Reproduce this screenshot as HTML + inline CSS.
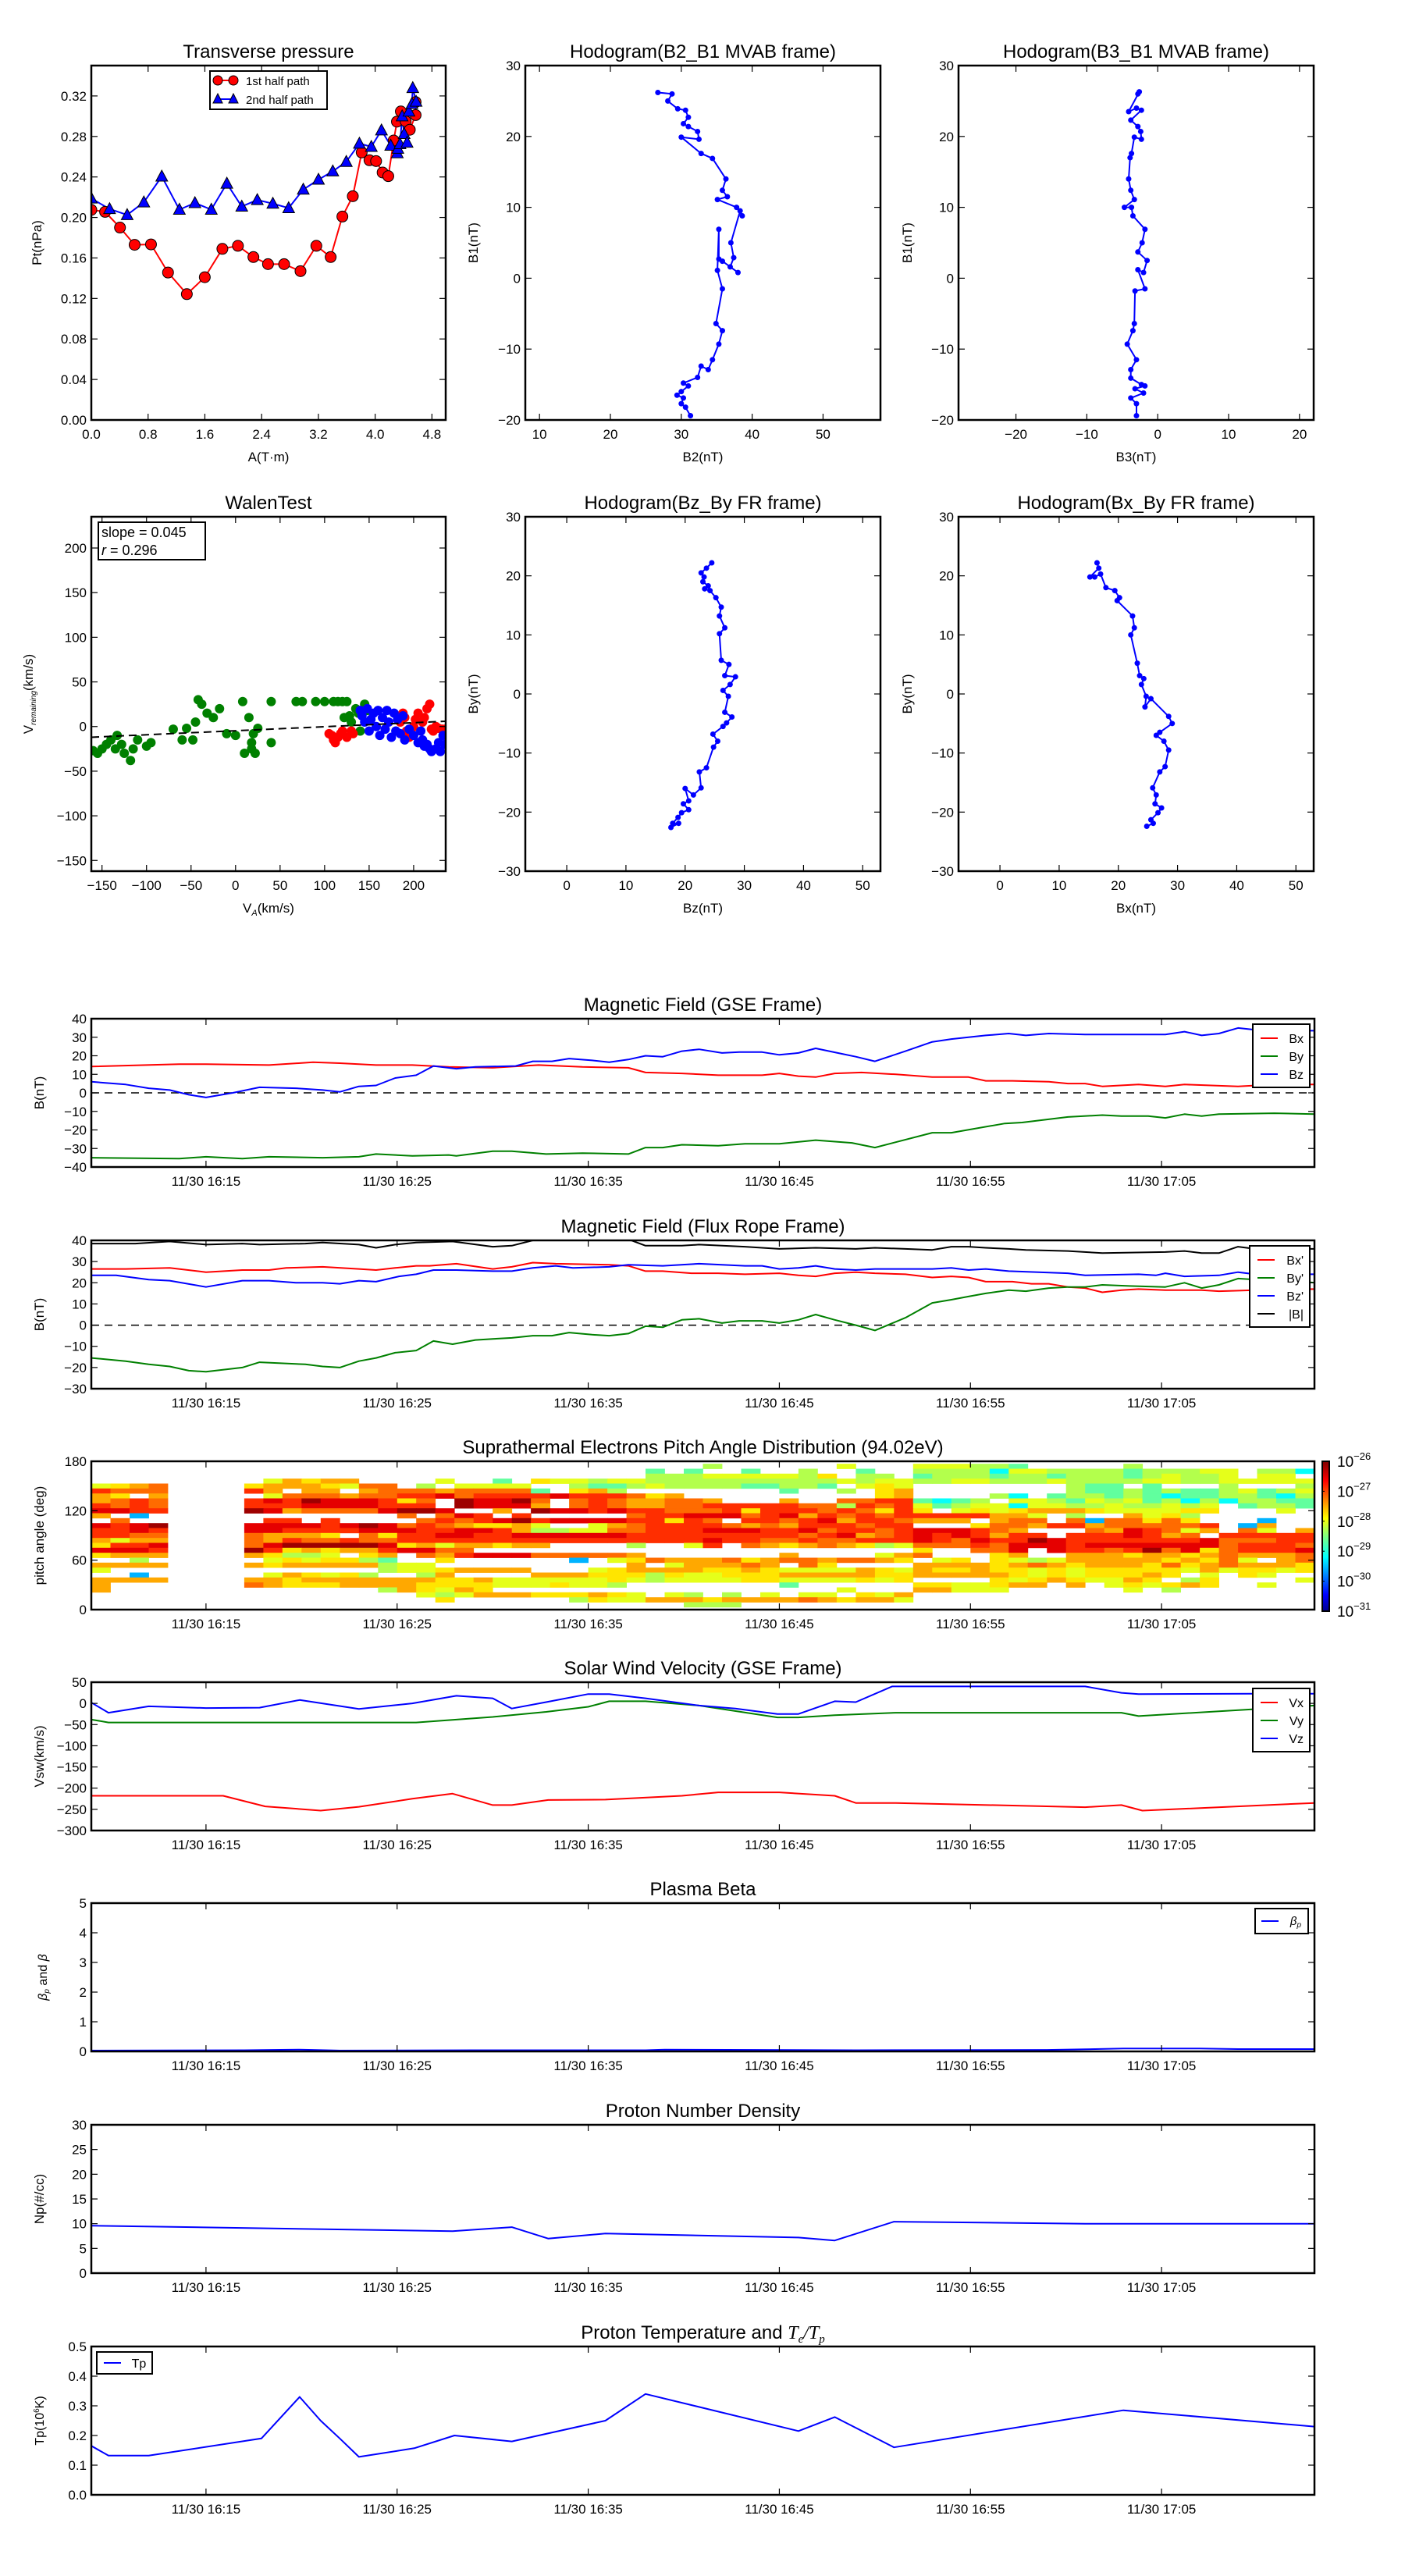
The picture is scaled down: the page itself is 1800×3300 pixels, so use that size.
<!DOCTYPE html>
<html><head><meta charset="utf-8">
<style>
html,body{margin:0;padding:0;background:#fff;}
svg{display:block;font-family:"Liberation Sans","DejaVu Sans",sans-serif;}
</style></head>
<body>
<svg id="chart" xmlns="http://www.w3.org/2000/svg" width="1800" height="3300" viewBox="0 0 1800 3300">
<rect x="0" y="0" width="1800" height="3300" fill="#fff"/>
<defs>
<linearGradient id="jetgrad" x1="0" y1="1" x2="0" y2="0">
<stop offset="0" stop-color="#00008f"/><stop offset="0.11" stop-color="#0000ff"/><stop offset="0.36" stop-color="#00ffff"/><stop offset="0.5" stop-color="#80ff80"/><stop offset="0.62" stop-color="#ffff00"/><stop offset="0.87" stop-color="#ff0000"/><stop offset="1" stop-color="#800000"/>
</linearGradient>
</defs>
</svg>
<script>
// ---------- DATA ----------
const presRedA=[0,0.194,0.404,0.61,0.841,1.081,1.346,1.599,1.847,2.066,2.284,2.49,2.717,2.948,3.171,3.373,3.538,3.685,3.81,3.92,4.013,4.105,4.185,4.261,4.307,4.362,4.43,4.488,4.57,4.57];
const presRedPt=[0.2075,0.2055,0.19,0.173,0.1734,0.1456,0.1243,0.141,0.169,0.172,0.1609,0.1539,0.1539,0.147,0.172,0.1609,0.2009,0.221,0.2642,0.2565,0.2557,0.2444,0.2408,0.276,0.2946,0.3047,0.295,0.2866,0.3011,0.314];
const presBlueA=[0,0.257,0.505,0.74,0.993,1.241,1.46,1.691,1.91,2.12,2.339,2.558,2.781,2.987,3.201,3.403,3.593,3.778,3.946,4.089,4.219,4.312,4.32,4.35,4.38,4.408,4.45,4.476,4.518,4.53,4.577];
const presBluePt=[0.2188,0.2084,0.2025,0.215,0.2405,0.2078,0.2143,0.2078,0.2335,0.2108,0.2173,0.2137,0.2093,0.2276,0.2374,0.2456,0.255,0.273,0.2698,0.2861,0.271,0.2636,0.268,0.2725,0.3,0.2825,0.274,0.3047,0.3122,0.3279,0.3144];
const presXTicks=[0,0.8,1.6,2.4,3.2,4.0,4.8];
const presYTicks=[0,0.04,0.08,0.12,0.16,0.20,0.24,0.28,0.32];

const h1B2=[26.7,28.7,28.1,29.5,30.6,31,30.3,31,32.3,32.5,30,32.8,34.4,36.3,35.8,36.5,35.1,37.8,38.6,38.3,37,37.4,36.9,38,35.8,35.3,35.3,35.1,35.8,34.9,35.8,35.3,34.4,33.8,32.8,32.3,30.3,31,30,29.4,30.3,30,30.6,31.3];
const h1B1=[26.2,26,25,23.9,23.7,22.7,21.8,21.4,20.7,19.6,19.9,17.6,16.9,14,12.4,11.5,11.1,10,8.8,9.5,5,2.9,1.6,0.8,2.4,2.7,6.9,1.1,-1.5,-6.4,-7.4,-9.3,-11.5,-12.9,-12.4,-14,-14.8,-15.2,-16,-16.5,-16.9,-17.7,-18.2,-19.4];
const h2B3=[-2.8,-2.6,-4.1,-3.0,-2.3,-3.8,-2.8,-2.4,-2.3,-3.3,-3.7,-3.9,-4.1,-3.8,-3.3,-4.7,-3.7,-3.5,-1.8,-2.2,-2.8,-1.5,-2,-2.8,-1.8,-3.2,-3.3,-3.5,-4.3,-3,-3.8,-3.8,-2.3,-1.8,-3.2,-2,-3.8,-3,-3];
const h2B1=[26,26.3,23.5,24,23.7,22.3,21.4,20.7,19.6,19.9,17.6,17,14,12.4,11.1,10,10,8.8,6.9,5,3.7,2.5,0.8,1.2,-1.5,-1.8,-6.4,-7.4,-9.3,-11.5,-12.9,-14.1,-15,-15.2,-15.6,-16.2,-16.9,-17.7,-19.4];
const h3Bz=[24.5,23.6,22.7,23.2,23,23.9,23.3,24.2,25.2,26.1,25.8,26.7,25.8,26.1,27.4,26.7,28.5,27.6,26.4,27.3,26.7,27.9,27,26.4,24.7,25.5,24.8,23.6,22.4,22.7,21.4,20,20.6,19.7,20.6,19.4,18.8,17.9,18.9,17.6];
const h3By=[22.2,21.3,20.5,19.8,19,18.3,17.8,17.5,16.3,14.7,13.2,11.2,10.2,5.7,5,3.1,2.9,1.6,0.6,-0.4,-3.1,-3.9,-4.9,-5.5,-6.8,-8,-9,-12.5,-13.2,-15.9,-17.1,-16,-18.1,-18.6,-19.6,-20.1,-20.9,-21.9,-21.9,-22.6];
const h4Bx=[16.4,16.7,15.2,16,17,17.9,19.4,20.2,19.8,22.4,22.7,22.1,23.2,23.6,24.3,23.9,24.7,24.5,25.5,28.5,29.1,27,26.4,27.7,28.5,27.9,27,25.8,26.4,26.2,27.3,26.7,25.5,25.9,24.8];
const h4By=[22.2,21.3,19.8,19.8,20.3,18,17.5,16.3,15.8,13.2,11.2,10,5.2,3.1,2.6,1.6,-0.4,-2.2,-0.8,-3.8,-5,-6.5,-7,-8,-9.5,-12.3,-13.2,-15.9,-17.1,-18.6,-19.3,-20.1,-21.3,-21.9,-22.4];

const walenGreenVA=[-160,-155,-150,-145,-140,-135,-133,-128,-125,-118,-115,-110,-100,-95,-70,-60,-55,-48,-45,-42,-38,-32,-25,-18,-10,0,8,10,15,18,18,20,22,25,40,40,68,75,90,100,110,115,120,125,122,128,130,135,138,140,145,148];
const walenGreenVR=[-27,-30,-25,-20,-15,-25,-10,-20,-30,-38,-25,-15,-22,-18,-3,-15,-2,-15,5,30,25,15,10,20,-8,-10,28,-30,10,-18,-25,-8,-30,-2,-18,28,28,28,28,28,28,28,28,28,10,12,5,20,15,-5,25,18];
const walenRedVA=[105,108,110,112,115,118,120,125,130,132,185,188,190,192,195,198,200,202,205,208,210,212,215,218,220,222,225,228,232,235];
const walenRedVR=[-8,-10,-15,-18,-12,-8,-5,-12,-5,-8,5,15,10,-5,-12,-8,0,8,15,-18,5,10,20,25,-3,-5,0,-2,-3,-3];
const walenBlueVA=[140,142,145,148,150,152,155,158,160,162,165,168,170,172,175,178,180,182,185,188,190,195,200,205,208,210,212,215,218,220,225,228,230,233,235];
const walenBlueVR=[18,12,5,20,-5,8,15,0,18,-10,10,-3,18,5,-12,15,-5,8,-8,12,-15,-3,-10,-18,-5,-15,-22,-20,-25,-28,-25,-18,-28,-10,-20];
const walenSlope=0.045, walenIntercept=-4.7;

const timeTicks=[6,16,26,36,46,56];
const timeLabels=['11/30 16:15','11/30 16:25','11/30 16:35','11/30 16:45','11/30 16:55','11/30 17:05'];

const gseBxT=[0,4.6,6,9.3,11.6,13,14.9,16.8,18.7,21,23.4,25.7,28.1,29,30.9,32.8,35.1,36,37,37.9,38.9,40.3,42.1,44,45.9,46.8,48.2,50.1,51.1,52,52.9,54.8,56.2,57.2,58.6,60,61.9,64];
const gseBx=[14.2,15.5,15.5,15,16.5,16,15,15,14,13.5,15,14,13.5,11,10.5,9.5,9.5,10.5,9,8.5,10.5,11,10,8.5,8.5,6.5,6.5,6,5,5,3.5,4.5,3.5,4.5,4,3.5,4.5,4.5];
const gseByT=[0,4.6,6,7.9,9.3,12.1,14,14.9,16.8,18.7,19.1,21,22,23.8,25.7,28.1,29,29.9,30.9,32.8,34.2,36,37.9,39.8,41,44,45,47.8,48.7,51.1,52.9,53.9,55.3,56.2,57.2,58.1,59,61.9,64];
const gseBy=[-35,-35.5,-34.5,-35.5,-34.5,-35,-34.5,-33,-34,-33.5,-34,-31.5,-31.5,-33,-32.5,-33,-29.5,-29.5,-28,-28.5,-27.5,-27.5,-25.5,-27,-29.5,-21.5,-21.5,-16.5,-16,-13,-12,-12.5,-12.5,-13.5,-11.5,-12.5,-11.5,-11,-11.5];
const gseBzT=[0,1.8,3,4.1,5.1,6,7.4,8.8,10.7,12.1,13,14,14.9,15.9,17,17.9,19.1,20.1,22.2,23.1,24.1,25,26.2,27.1,28.1,29,29.9,30.9,31.8,33,33.9,35.1,36,37,37.9,39.3,40,41,42.6,44,45,45.9,46.8,48,48.9,50.1,52,54.3,56.2,57.2,58.1,59,60,60.9,62.8,64];
const gseBz=[6,4.5,2.5,1.5,-1,-2.5,0,3,2.5,1.5,0.5,3.5,4,8,9.5,14.5,13,14,14.5,17,17,18.5,17.5,16.5,18,20,19.5,22.5,23.5,21.5,22,22,20.5,21.5,24,21,19.5,17,22.5,27.5,29,30,31,32,31,32,31.5,31.5,31.5,33,31,32,35,34,33.5,33.5];

const frBxT=[0,1.8,4.1,6,7.9,9.3,10.2,12.1,14,14.9,15.9,17,17.7,19.1,21,22,23.1,24.3,27.1,28.1,29,29.9,31.4,32.8,34.2,36,37,37.9,38.9,40,41,42.6,44,45,45.9,46.8,48.2,49.2,50.1,51.1,52,52.9,53.9,54.8,56.2,58.1,59,60.9,64];
const frBx=[26.5,26.5,27,25,26,26,27,27.5,26.5,26,27,28,28,29,26.5,27.5,29.5,29,28.5,28,25.5,25.5,24.5,24.5,24,24.5,23.5,23,24.5,25,24.5,24,22.5,23,22.5,20.5,20.5,19.5,19.5,18,17.5,15.5,16.5,17,16.5,16.5,16,16.5,17];
const frByT=[0,1.8,3,4.1,5.1,6,7.9,8.8,11.2,12.1,13,14,14.9,15.9,17,17.9,18.9,20.1,21,22,23.1,24.1,25,26.2,27.1,28.1,29,29.9,30.9,31.8,33,33.9,35.1,36,37,37.9,38.9,40,41,42.6,44,45,45.9,46.8,48,48.9,50.1,51.1,52,52.9,54.3,56.2,57.2,58.1,59,60,60.9,61.9,62.8,64];
const frBy=[-15.5,-17,-18.5,-19.5,-21.5,-22,-20,-17.5,-18.5,-19.5,-20,-17,-15.5,-13,-12,-7.5,-9,-7,-6.5,-6,-5,-5,-3.5,-4.5,-5,-4,-0.5,-1,2.5,3,1,2,2,1,2.5,5,2.5,0,-2.5,3.5,10.5,12,13.5,15,16.5,16,17.5,18,18,19,18.5,18,20,17.5,19,22,21.5,20,21,20];
const frBzT=[0,1.3,3,4.1,6,7.9,9.3,10.7,12.1,13,14,14.9,16.1,17,17.9,19.1,21,22,23.1,24.3,25.2,27.1,28.1,29.9,31.8,33,34.2,35.1,36,37,37.9,38.9,40,41,42.6,44,45,45.9,46.8,48,51.1,52,54.8,55.7,56.2,57.2,59,60,60.9,64];
const frBz=[23.5,23.5,21.5,21,18,21,21,20,20,19.5,21,20.5,23,24,26,26,25.5,25.5,27,28,27,27.5,28.5,28,29,28.5,28,28,26.5,27,28,26.5,26,26.5,26.5,26.5,27,26,26.5,25.5,24.5,23.5,24,23.5,24.5,23,23.5,25,24,24];
const frBtT=[0,2.3,4.1,6,7.9,8.8,11.2,12.1,14,14.9,15.9,17,18.9,21,22,23.1,24.3,27.1,28.1,29,30.9,31.8,33,34.2,36,37.9,40,41,42.6,44,45,45.9,46.8,48,48.9,51.1,52.9,56.2,57.2,58.1,59,60,60.9,64];
const frBt=[38.5,38.5,39.5,38,38.5,38,38.5,39,38,36.5,38,39,39.5,37,37.5,40,40.5,40,40.5,37.5,37.5,38,37.5,37,36,36.5,36,36.5,36,35.5,37,37,36.5,36,35.5,35,34,34.5,35,34,34,37,36,36];

// pitch-angle rows: 31 bins centred at 180,174,...,0 ; 64 one-minute columns ; '.' = no data, b,0-9 = level
const padRows=[
 '.'.repeat(64),
 '.'.repeat(32)+'2......3...333221.....2.........',
 '.'.repeat(29)+'1.1'+'..1..2..1..22220332222122233.220',
 '.'.repeat(29)+'222'+'3333324.22.12221221222123223.33.',
 '.........35455....3..1.433233222'+'22222223233223322232222332233333',
 '3456....45554366.2.3333..2112322'+'2211221.343........211.1...2...2',
 '7666....75.55.5666566661.452....'+'....1..2.45........2112121123123',
 '54.5.....3666566778677778777645.'+'.........45....20.12212101122102',
 '5676....7879888746.98896.6765566'+'5...5..66771012.3321323120202211',
 '7676....7778888777.98885.6765566'+'777776627673123303322322323.1221',
 '8877....98566668998..5.988787766'+'674777676474.34345554333344...3.',
 '5.b.............6.687.7.....6778'+'886785767677777553.2..5342......',
 '.6.......77.7....676789788887747'+'6.776785776555.566.6b66464...b..',
 '8789....8888789867654453..356777'+'76565777677...4665775666667.b5..',
 '7787....887777888778875223366777'+'88877867767888765...6587635.63.5',
 '7766....65554.647788778888887777'+'777776785678787577.7778756.77777',
 '5355....657667667777777777777777'+'87766766777876877987777777866677',
 '4778....6899999845355455....2..3'+'7.654565423666768887888888867776',
 '8887....974545578866............'+'...........4..668.87767968467778',
 '4555....54223.45.657888666665...'+'....5....356...45..5554554565556',
 '..2......3434421..4......b.34655'+'56456656654.34.43235555545463.56',
 '5555....5455555233..........5.35'+'5565.64....555545654555464565554',
 '3'+'.'.repeat(14)+'23345555...345555'+'44543333543544544343444443534434',
 '..b......354342..25....555444243'+'3444555554455555434344454.3.43..',
 '5555....554555555544533333343233'+'33443333434....434543354.24....3',
 '5.......65444555544443334332....'+'....1......4433455.5.343454..3..',
 '5'+'.'.repeat(14)+'254354'+'.'.repeat(11)+'.......3...55333......3.2.......',
 '.'.repeat(17)+'323555444543.32'+'.2.3.33.435'+'.'.repeat(21),
 '.'.repeat(18)+'4......2433555'+'45555654553'+'.'.repeat(21),
 '.'.repeat(31)+'2'+'22'+'.'.repeat(30),
 '.'.repeat(64)
];
const padLevels={'b':0.3,'0':0.38,'1':0.47,'2':0.55,'3':0.6,'4':0.65,'5':0.71,'6':0.77,'7':0.83,'8':0.9,'9':0.97};
const padYTicks=[0,60,120,180];
const cbarLabels=['-26','-27','-28','-29','-30','-31'];

const swVxT=[0,6.9,9.1,12,14,16.8,18.9,21,22,23.9,26.9,30.9,32.8,36,38.9,40,42.1,52,53.9,55,64];
const swVx=[-218,-218,-243,-253,-244,-225,-213,-240,-240,-228,-227,-218,-210,-210,-218,-235,-235,-245,-240,-253,-235];
const swVyT=[0,0.9,17,21,23.8,26,27.1,29,31.8,35.9,37,38.9,42.1,53.9,54.8,64];
const swVy=[-38,-45,-45,-32,-20,-8,5,5,-5,-33,-33,-28,-22,-22,-30,-5];
const swVzT=[0,0.9,3,6,8.8,10.9,14,16.8,19.1,21,22,23.8,26,27.1,29,31.8,33.7,35.9,37,38.9,40,41.9,52,53.9,54.8,60.9,64];
const swVz=[2,-22,-7,-11,-10,8,-13,0,18,12,-12,3,22,22,12,-5,-12,-25,-25,5,3,40,40,25,22,23,23];

const betaT=[0,8,10.9,13,20,29,30,40,50,52,54,58,60,64];
const betaP=[0.03,0.04,0.06,0.03,0.04,0.04,0.06,0.04,0.05,0.07,0.1,0.1,0.08,0.08];
const npT=[0,18.9,22,23.9,26.9,37,38.9,42,52,64];
const npV=[9.6,8.5,9.3,7,8,7.2,6.6,10.4,10,10];
const tpT=[0,0.9,3,8.9,10.9,12,13,14,16.9,19,22,26.9,29,37,38.9,42,54,64];
const tpV=[0.165,0.132,0.132,0.19,0.33,0.25,0.19,0.128,0.157,0.2,0.18,0.25,0.34,0.215,0.262,0.16,0.285,0.23];

// ---------- HELPERS ----------
const NS='http://www.w3.org/2000/svg';
const svg=document.getElementById('chart');
const defs=svg.querySelector('defs');
function mk(tag,attrs,parent){const e=document.createElementNS(NS,tag);for(const k in attrs)e.setAttribute(k,attrs[k]);(parent||svg).appendChild(e);return e;}
function nm(e,name,inter){
  
  
  return e;}
function txt(str,x,y,opts,parent){const o=Object.assign({'font-size':17,'text-anchor':'middle',fill:'#000'},opts||{});o.x=x;o.y=y;const t=mk('text',o,parent);t.textContent=str;return t;}
let clipId=0;
function axes(name,x0,y0,w,h,xmin,xmax,ymin,ymax){
  const g=mk('g',{});
  nm(g,name+'-panel',false);
  const id='clip'+(clipId++);
  const cp=mk('clipPath',{id:id},defs);const r=mk('rect',{x:x0,y:y0,width:w,height:h},cp);
  const dg=mk('g',{'clip-path':'url(#'+id+')'},g);
  nm(dg,name+'-plot-area',false);
  return {name,g,dg,x0,y0,w,h,sx:v=>x0+(v-xmin)/(xmax-xmin)*w,sy:v=>y0+h-(v-ymin)/(ymax-ymin)*h};
}
function frame(ax){const r=mk('rect',{x:ax.x0,y:ax.y0,width:ax.w,height:ax.h,fill:'none',stroke:'#000','stroke-width':2.5},ax.g);nm(r,ax.name+'-frame',false);}
function xticks(ax,vals,labels,fs){
  const g=mk('g',{},ax.g);nm(g,ax.name+'-x-ticks',false);
  vals.forEach((v,i)=>{const x=ax.sx(v);
    mk('line',{x1:x,x2:x,y1:ax.y0+ax.h,y2:ax.y0+ax.h-8,stroke:'#000','stroke-width':1.2},g);
    mk('line',{x1:x,x2:x,y1:ax.y0,y2:ax.y0+8,stroke:'#000','stroke-width':1.2},g);
    const t=txt(labels[i],x,ax.y0+ax.h+24,{'font-size':fs||17},g);nm(t,ax.name+'-x-tick-label',false);});
}
function yticks(ax,vals,labels,fs){
  const g=mk('g',{},ax.g);nm(g,ax.name+'-y-ticks',false);
  vals.forEach((v,i)=>{const y=ax.sy(v);
    mk('line',{x1:ax.x0,x2:ax.x0+8,y1:y,y2:y,stroke:'#000','stroke-width':1.2},g);
    mk('line',{x1:ax.x0+ax.w,x2:ax.x0+ax.w-8,y1:y,y2:y,stroke:'#000','stroke-width':1.2},g);
    const t=txt(labels[i],ax.x0-6,y+6,{'font-size':fs||17,'text-anchor':'end'},g);nm(t,ax.name+'-y-tick-label',false);});
}
function title(ax,str){const t=txt(str,ax.x0+ax.w/2,ax.y0-10,{'font-size':24},ax.g);nm(t,ax.name+'-title',false);return t;}
function ylabel(ax,str,x){const t=txt(str,0,0,{'font-size':17,transform:'translate('+x+','+(ax.y0+ax.h/2)+') rotate(-90)'},ax.g);nm(t,ax.name+'-y-axis-title',false);return t;}
function xlabel(ax,str,y){const t=txt(str,ax.x0+ax.w/2,y,{'font-size':17},ax.g);nm(t,ax.name+'-x-axis-title',false);return t;}
function line(ax,xs,ys,color,name,w){const n=Math.min(xs.length,ys.length);let p=[];for(let i=0;i<n;i++)p.push(ax.sx(xs[i]).toFixed(1)+','+ax.sy(ys[i]).toFixed(1));
  const l=mk('polyline',{points:p.join(' '),fill:'none',stroke:color,'stroke-width':w||2,'stroke-linejoin':'round'},ax.dg);nm(l,name,false);return l;}
function dots(ax,xs,ys,color,name,r){const g=mk('g',{},ax.dg);nm(g,name,false);const n=Math.min(xs.length,ys.length);
  for(let i=0;i<n;i++){const c=mk('circle',{cx:ax.sx(xs[i]),cy:ax.sy(ys[i]),r:r,fill:color},g);nm(c,name+'-point',false);}return g;}
function zeroDash(ax){const l=mk('line',{x1:ax.x0,x2:ax.x0+ax.w,y1:ax.sy(0),y2:ax.sy(0),stroke:'#000','stroke-width':1.5,'stroke-dasharray':'10,7'},ax.dg);nm(l,ax.name+'-zero-line',false);}
function legend(ax,x,y,w,entries){const g=mk('g',{},ax.g);nm(g,ax.name+'-legend',true);
  const h=entries.length*23+12;const r=mk('rect',{x:x,y:y,width:w,height:h,fill:'#fff',stroke:'#000','stroke-width':2},g);nm(r,ax.name+'-legend-box',false);
  entries.forEach((e,i)=>{const yy=y+18+i*23;const eg=mk('g',{},g);nm(eg,ax.name+'-legend-entry-'+e[1],true);
    mk('line',{x1:x+10,x2:x+32,y1:yy,y2:yy,stroke:e[0],'stroke-width':2},eg);
    const t=txt(e[1],x+w-8,yy+6,{'font-size':16,'text-anchor':'end'},eg);});
  return g;}
function fmt(v,d){return v.toFixed(d).replace('-','\u2212');}

// ---------- TRANSVERSE PRESSURE ----------
(function(){
  const ax=axes('transverse-pressure',117,84,454,454,0,4.994,0,0.35);
  line(ax,presRedA,presRedPt,'#ff0000','pressure-1st-half-line',2);
  line(ax,presBlueA,presBluePt,'#0000ff','pressure-2nd-half-line',2);
  const gr=mk('g',{},ax.dg);nm(gr,'pressure-1st-half-markers',false);
  for(let i=0;i<presRedA.length;i++){const c=mk('circle',{cx:ax.sx(presRedA[i]),cy:ax.sy(presRedPt[i]),r:7,fill:'#ff0000',stroke:'#000','stroke-width':1},gr);nm(c,'pressure-1st-half-point',false);}
  const gb=mk('g',{},ax.dg);nm(gb,'pressure-2nd-half-markers',false);
  for(let i=0;i<presBlueA.length;i++){const x=ax.sx(presBlueA[i]),y=ax.sy(presBluePt[i]);
    const p=mk('polygon',{points:(x)+','+(y-8)+' '+(x-7.5)+','+(y+6)+' '+(x+7.5)+','+(y+6),fill:'#0000ff',stroke:'#000','stroke-width':1},gb);nm(p,'pressure-2nd-half-point',false);}
  frame(ax);
  xticks(ax,presXTicks,presXTicks.map(v=>v.toFixed(1)));
  yticks(ax,presYTicks,presYTicks.map(v=>v.toFixed(2)));
  title(ax,'Transverse pressure');
  xlabel(ax,'A(T\u00b7m)',591);
  ylabel(ax,'Pt(nPa)',53);
  const lg=mk('g',{},ax.g);nm(lg,'pressure-legend',true);
  const lr=mk('rect',{x:269,y:91,width:150,height:49,fill:'#fff',stroke:'#000','stroke-width':2},lg);nm(lr,'pressure-legend-box',false);
  const e1=mk('g',{},lg);nm(e1,'legend-entry-1st-half',true);
  mk('line',{x1:279,x2:299,y1:103,y2:103,stroke:'#ff0000','stroke-width':2},e1);
  mk('circle',{cx:279,cy:103,r:6,fill:'#ff0000',stroke:'#000','stroke-width':1},e1);mk('circle',{cx:299,cy:103,r:6,fill:'#ff0000',stroke:'#000','stroke-width':1},e1);
  txt('1st half path',315,109,{'font-size':15,'text-anchor':'start'},e1);
  const e2=mk('g',{},lg);nm(e2,'legend-entry-2nd-half',true);
  mk('line',{x1:279,x2:299,y1:127,y2:127,stroke:'#0000ff','stroke-width':2},e2);
  mk('polygon',{points:'279,120 273,132 285,132',fill:'#0000ff',stroke:'#000','stroke-width':1},e2);mk('polygon',{points:'299,120 293,132 305,132',fill:'#0000ff',stroke:'#000','stroke-width':1},e2);
  txt('2nd half path',315,133,{'font-size':15,'text-anchor':'start'},e2);
})();

// ---------- HODOGRAMS ----------
function hodo(name,x0,y0,xmin,xmax,ymin,ymax,xs,ys,xt,yt,ttl,xl,yl,ylx,xly){
  const ax=axes(name,x0,y0,455,454,xmin,xmax,ymin,ymax);
  line(ax,xs,ys,'#0000ff',name+'-path',2);
  dots(ax,xs,ys,'#0000ff',name+'-samples',3.5);
  frame(ax);
  xticks(ax,xt,xt.map(v=>fmt(v,0)));
  yticks(ax,yt,yt.map(v=>fmt(v,0)));
  title(ax,ttl);xlabel(ax,xl,xly);ylabel(ax,yl,ylx);
}
hodo('hodogram-b2-b1',673,84,8,58.1,-20,30,h1B2,h1B1,[10,20,30,40,50],[-20,-10,0,10,20,30],'Hodogram(B2_B1 MVAB frame)','B2(nT)','B1(nT)',612,591);
hodo('hodogram-b3-b1',1228,84,-28.1,22,-20,30,h2B3,h2B1,[-20,-10,0,10,20],[-20,-10,0,10,20,30],'Hodogram(B3_B1 MVAB frame)','B3(nT)','B1(nT)',1168,591);
hodo('hodogram-bz-by',673,662,-7,53,-30,30,h3Bz,h3By,[0,10,20,30,40,50],[-30,-20,-10,0,10,20,30],'Hodogram(Bz_By FR frame)','Bz(nT)','By(nT)',612,1169);
hodo('hodogram-bx-by',1228,662,-7,53,-30,30,h4Bx,h4By,[0,10,20,30,40,50],[-30,-20,-10,0,10,20,30],'Hodogram(Bx_By FR frame)','Bx(nT)','By(nT)',1168,1169);

// ---------- WALEN TEST ----------
(function(){
  const ax=axes('walen-test',117,662,454,454,-162,236,-162,235);
  dots(ax,walenGreenVA,walenGreenVR,'#008000','walen-green-points',6);
  dots(ax,walenRedVA,walenRedVR,'#ff0000','walen-red-points',6);
  dots(ax,walenBlueVA,walenBlueVR,'#0000ff','walen-blue-points',6);
  const fl=mk('line',{x1:ax.sx(-162),y1:ax.sy(walenSlope*-162+walenIntercept),x2:ax.sx(236),y2:ax.sy(walenSlope*236+walenIntercept),stroke:'#000','stroke-width':2,'stroke-dasharray':'10,6'},ax.dg);nm(fl,'walen-fit-line',false);
  frame(ax);
  const xt=[-150,-100,-50,0,50,100,150,200],yt=[-150,-100,-50,0,50,100,150,200];
  xticks(ax,xt,xt.map(v=>fmt(v,0)));yticks(ax,yt,yt.map(v=>fmt(v,0)));
  title(ax,'WalenTest');
  const xl=mk('text',{x:ax.x0+ax.w/2,y:1169,'font-size':17,'text-anchor':'middle'},ax.g);nm(xl,'walen-test-x-axis-title',false);
  xl.innerHTML='V<tspan font-size="11" dy="4" font-style="italic">A</tspan><tspan dy="-4">(km/s)</tspan>';
  const yl=mk('text',{'font-size':17,'text-anchor':'middle',transform:'translate(42,'+(ax.y0+ax.h/2)+') rotate(-90)'},ax.g);nm(yl,'walen-test-y-axis-title',false);
  yl.innerHTML='V<tspan font-size="10" dy="4" font-style="italic">remaining</tspan><tspan dy="-4">(km/s)</tspan>';
  const bx=mk('g',{},ax.g);nm(bx,'walen-stats-box',false);
  mk('rect',{x:126,y:669,width:137,height:48,fill:'#fff',stroke:'#000','stroke-width':2},bx);
  txt('slope = 0.045',130,688,{'font-size':18,'text-anchor':'start'},bx);
  const r=txt('',130,711,{'font-size':18,'text-anchor':'start'},bx);r.innerHTML='<tspan font-style="italic">r</tspan> = 0.296';
})();

// ---------- TIME PANELS ----------
function timePanel(name,y0,ymin,ymax,yt,ylbls,ttl,yl){
  const ax=axes(name,117,y0,1567,190,0,64,ymin,ymax);
  ax.finish=function(){frame(ax);xticks(ax,timeTicks,timeLabels);yticks(ax,yt,ylbls);if(ttl)title(ax,ttl);if(yl)ylabel(ax,yl,56);};
  return ax;
}
// GSE
(function(){
  const yt=[-40,-30,-20,-10,0,10,20,30,40];
  const ax=timePanel('magnetic-field-gse',1305,-40,40,yt,yt.map(v=>fmt(v,0)),'Magnetic Field (GSE Frame)','B(nT)');
  zeroDash(ax);
  line(ax,gseBxT,gseBx,'#ff0000','gse-bx-line');line(ax,gseByT,gseBy,'#008000','gse-by-line');line(ax,gseBzT,gseBz,'#0000ff','gse-bz-line');
  ax.finish();
  legend(ax,1605,1312,73,[['#ff0000','Bx'],['#008000','By'],['#0000ff','Bz']]);
})();
// Flux rope
(function(){
  const yt=[-30,-20,-10,0,10,20,30,40];
  const ax=timePanel('magnetic-field-flux-rope',1589,-30,40,yt,yt.map(v=>fmt(v,0)),'Magnetic Field (Flux Rope Frame)','B(nT)');
  zeroDash(ax);
  line(ax,frBxT,frBx,'#ff0000','fr-bx-line');line(ax,frByT,frBy,'#008000','fr-by-line');line(ax,frBzT,frBz,'#0000ff','fr-bz-line');line(ax,frBtT,frBt,'#000000','fr-btotal-line');
  ax.finish();
  legend(ax,1601,1596,77,[['#ff0000',"Bx'"],['#008000',"By'"],['#0000ff',"Bz'"],['#000000','|B|']]);
})();
// PAD
function jet(t){const c=v=>Math.round(255*Math.max(0,Math.min(1,v)));return 'rgb('+c(1.5-Math.abs(4*t-3))+','+c(1.5-Math.abs(4*t-2))+','+c(1.5-Math.abs(4*t-1))+')';}
(function(){
  const ax=timePanel('pitch-angle-distribution',1872,0,180,padYTicks,padYTicks.map(String),'Suprathermal Electrons Pitch Angle Distribution (94.02eV)','pitch angle (deg)');
  const g=mk('g',{},ax.dg);nm(g,'pad-heatmap',false);
  padRows.forEach((row,r)=>{const center=180-6*r;
    for(let c=0;c<64;c++){const ch=row[c];if(!ch||ch==='.')continue;
      const x1=ax.sx(c),x2=ax.sx(c+1),y1=ax.sy(center+3),y2=ax.sy(center-3);
      const cell=mk('rect',{x:x1.toFixed(1),y:y1.toFixed(1),width:(x2-x1+0.4).toFixed(1),height:(y2-y1+0.4).toFixed(1),fill:jet(padLevels[ch])},g);
      nm(cell,'pad-cell',false);}});
  ax.finish();
  const cb=mk('g',{},svg);nm(cb,'pad-colorbar',false);
  const cr=mk('rect',{x:1694,y:1872,width:9,height:192,fill:'url(#jetgrad)',stroke:'#000','stroke-width':2},cb);nm(cr,'colorbar-gradient',false);
  cbarLabels.forEach((s,i)=>{const y=1872+i*38.4;mk('line',{x1:1694,x2:1697,y1:y,y2:y,stroke:'#000'},cb);
    const t=txt('',1713,y+7,{'font-size':19,'text-anchor':'start'},cb);t.innerHTML='10<tspan font-size="13" dy="-9">'+s.replace('-','\u2212')+'</tspan>';nm(t,'colorbar-tick-label',false);});
})();
// Solar wind
(function(){
  const yt=[-300,-250,-200,-150,-100,-50,0,50];
  const ax=timePanel('solar-wind-velocity',2155,-300,50,yt,yt.map(v=>fmt(v,0)),'Solar Wind Velocity (GSE Frame)','Vsw(km/s)');
  line(ax,swVxT,swVx,'#ff0000','sw-vx-line');line(ax,swVyT,swVy,'#008000','sw-vy-line');line(ax,swVzT,swVz,'#0000ff','sw-vz-line');
  ax.finish();
  legend(ax,1605,2163,73,[['#ff0000','Vx'],['#008000','Vy'],['#0000ff','Vz']]);
})();
// Beta
(function(){
  const yt=[0,1,2,3,4,5];
  const ax=timePanel('plasma-beta',2438,0,5,yt,yt.map(String),'Plasma Beta',null);
  line(ax,betaT,betaP,'#0000ff','beta-p-line');
  ax.finish();
  const yl=mk('text',{'font-size':16,'text-anchor':'middle',transform:'translate(60,2533) rotate(-90)'},ax.g);nm(yl,'plasma-beta-y-axis-title',false);
  yl.innerHTML='<tspan font-style="italic">\u03b2</tspan><tspan font-size="10" dy="3" font-style="italic">p</tspan><tspan dy="-3"> and </tspan><tspan font-style="italic">\u03b2</tspan>';
  const lg=mk('g',{},ax.g);nm(lg,'plasma-beta-legend',true);
  mk('rect',{x:1608,y:2445,width:68,height:32,fill:'#fff',stroke:'#000','stroke-width':2},lg);
  mk('line',{x1:1616,x2:1638,y1:2461,y2:2461,stroke:'#0000ff','stroke-width':2},lg);
  const t=txt('',1660,2466,{'font-size':15,'text-anchor':'middle','font-style':'italic'},lg);t.innerHTML='\u03b2<tspan font-size="10" dy="3">p</tspan>';
})();
// Np
(function(){
  const yt=[0,5,10,15,20,25,30];
  const ax=timePanel('proton-number-density',2722,0,30,yt,yt.map(String),'Proton Number Density','Np(#/cc)');
  line(ax,npT,npV,'#0000ff','np-line');
  ax.finish();
})();
// Tp
(function(){
  const yt=[0,0.1,0.2,0.3,0.4,0.5];
  const ax=timePanel('proton-temperature',3006,0,0.5,yt,yt.map(v=>v.toFixed(1)),null,null);
  line(ax,tpT,tpV,'#0000ff','tp-line');
  ax.finish();
  const tt=mk('text',{x:ax.x0+ax.w/2,y:2996,'font-size':24,'text-anchor':'middle'},ax.g);nm(tt,'proton-temperature-title',false);
  tt.innerHTML='Proton Temperature and <tspan font-style="italic" font-family="Liberation Serif">T</tspan><tspan font-size="15" dy="5" font-style="italic" font-family="Liberation Serif">e</tspan><tspan dy="-5" font-style="italic" font-family="Liberation Serif">/T</tspan><tspan font-size="15" dy="5" font-style="italic" font-family="Liberation Serif">p</tspan>';
  const yl=mk('text',{'font-size':16,'text-anchor':'middle',transform:'translate(56,3101) rotate(-90)'},ax.g);nm(yl,'proton-temperature-y-axis-title',false);
  yl.innerHTML='Tp(10<tspan font-size="10" dy="-6">6</tspan><tspan dy="6">K)</tspan>';
  const lg=mk('g',{},ax.g);nm(lg,'proton-temperature-legend',true);
  mk('rect',{x:124,y:3013,width:71,height:28,fill:'#fff',stroke:'#000','stroke-width':2},lg);
  mk('line',{x1:133,x2:155,y1:3027,y2:3027,stroke:'#0000ff','stroke-width':2},lg);
  txt('Tp',178,3033,{'font-size':16},lg);
})();
</script>
</body></html>
